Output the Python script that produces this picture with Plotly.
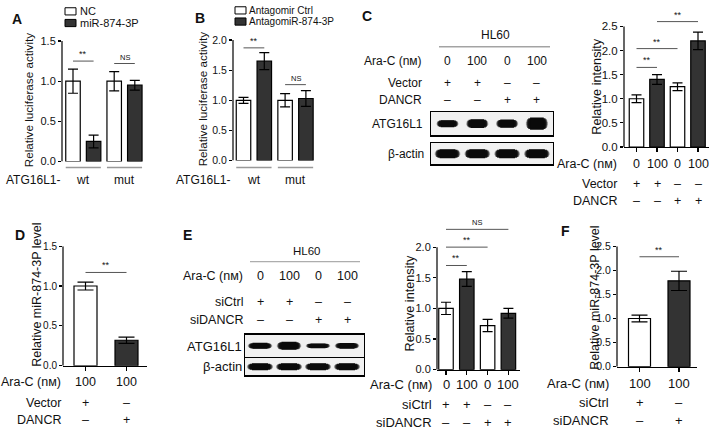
import plotly.graph_objects as go

W, H = 709, 433
FONT = "Liberation Sans, Arial, Helvetica, sans-serif"
DARK = "#333333"

# ------------------------------------------------------------------ data
a_groups = ["wt", "mut"]
a_series = ["NC", "miR-874-3P"]
a_values = [1.00, 0.25, 1.00, 0.95]          # NC wt, miR wt, NC mut, miR mut
a_errors = [0.15, 0.08, 0.12, 0.06]
a_yticks = [0.0, 0.5, 1.0, 1.5]
a_sig = [(0, 1, 1.25, "**"), (2, 3, 1.22, "NS")]

b_groups = ["wt", "mut"]
b_series = ["Antagomir Ctrl", "AntagomiR-874-3P"]
b_values = [1.00, 1.65, 1.00, 1.03]
b_errors = [0.05, 0.14, 0.11, 0.13]
b_yticks = [0.0, 0.5, 1.0, 1.5, 2.0]
b_sig = [(0, 1, 1.87, "**"), (2, 3, 1.26, "NS")]

c_ara = ["0", "100", "0", "100"]
c_vector = ["+", "+", "–", "–"]
c_dancr = ["–", "–", "+", "+"]
c_values = [1.00, 1.40, 1.25, 2.20]
c_errors = [0.08, 0.10, 0.08, 0.18]
c_yticks = [0.0, 0.5, 1.0, 1.5, 2.0, 2.5]
c_sig = [(0, 1, 1.65, "**"), (0, 2, 2.04, "**"), (1, 3, 2.60, "**")]
c_actin = [1.0, 1.0, 1.0, 1.0]

d_ara = ["100", "100"]
d_vector = ["+", "–"]
d_dancr = ["–", "+"]
d_values = [1.00, 0.32]
d_errors = [0.05, 0.04]
d_yticks = [0.0, 0.5, 1.0, 1.5]
d_sig = [(0, 1, 1.17, "**")]

e_ara = ["0", "100", "0", "100"]
e_sictrl = ["+", "+", "–", "–"]
e_sidancr = ["–", "–", "+", "+"]
e_values = [1.00, 1.48, 0.72, 0.92]
e_errors = [0.10, 0.12, 0.10, 0.08]
e_yticks = [0.0, 0.5, 1.0, 1.5, 2.0]
e_sig = [(0, 1, 1.70, "**"), (0, 2, 2.00, "**"), (0, 3, 2.29, "NS")]
e_actin = [1.0, 1.0, 1.0, 1.0]

f_ara = ["100", "100"]
f_sictrl = ["+", "–"]
f_sidancr = ["–", "+"]
f_values = [1.00, 1.78]
f_errors = [0.07, 0.20]
f_yticks = [0.0, 0.5, 1.0, 1.5, 2.0, 2.5]
f_sig = [(0, 1, 2.28, "**")]

# ------------------------------------------------------------------ helpers
fig = go.Figure()
layout = dict(width=W, height=H, margin=dict(l=0, r=0, t=0, b=0),
              paper_bgcolor="white", plot_bgcolor="white", showlegend=False,
              font=dict(family=FONT, size=11, color="#111"))
shapes, annotations = [], []


def PX(p):
    return p / W


def PY(p):
    return 1 - p / H


def names(n):
    s = "" if n == 1 else str(n)
    return "x" + s, "y" + s, "xaxis" + s, "yaxis" + s


def text(x, y, t, size, xref="paper", yref="paper", xanchor="center",
         yanchor="middle", **kw):
    annotations.append(dict(x=x, y=y, xref=xref, yref=yref, text=t,
                            showarrow=False, xanchor=xanchor, yanchor=yanchor,
                            borderpad=0,
                            font=dict(size=size, family=FONT, color="#111"), **kw))


def bar_chart(n, geo, values, errors, colors, yticks, xline=True, tickfont=11):
    xa, ya, xk, yk = names(n)
    axis_px, first_px, step_px, right_px, zero_px, ymax_px, top_px, bar_px = geo
    ymax = yticks[-1]
    scale = (zero_px - ymax_px) / ymax
    ytop = (zero_px - top_px) / scale
    pos = list(range(len(values)))
    layout[xk] = dict(domain=[PX(axis_px), PX(right_px)],
                      range=[-(first_px - axis_px) / step_px,
                             (right_px - first_px) / step_px],
                      anchor=ya, showgrid=False, zeroline=False,
                      showticklabels=False, showline=xline, linecolor="black",
                      linewidth=1.2, ticks="outside" if xline else "",
                      tickvals=pos, ticklen=4, tickwidth=1.2, tickcolor="black")
    layout[yk] = dict(domain=[PY(zero_px), PY(top_px)], range=[0, ytop],
                      anchor=xa, showgrid=False, zeroline=False, showline=False,
                      ticks="outside", ticklen=3, tickwidth=1.2,
                      tickcolor="black", tickvals=yticks,
                      ticktext=[f"{v:.1f}" for v in yticks],
                      tickfont=dict(size=tickfont, family=FONT, color="#111"))
    fig.add_trace(go.Bar(
        x=pos, y=values, width=bar_px / step_px,
        marker=dict(color=colors, line=dict(color="black", width=1.2)),
        error_y=dict(type="data", array=errors, visible=True, color="black",
                     thickness=1.2, width=round(bar_px * 0.36)),
        xaxis=xa, yaxis=ya, showlegend=False, hoverinfo="skip"))
    shapes.append(dict(type="line", xref=xa + " domain", x0=0, x1=0, yref=ya,
                       y0=0, y1=ymax, line=dict(color="black", width=1.2)))


def brackets(n, items):
    xa, ya, _, _ = names(n)
    for i, j, h, lab in items:
        shapes.append(dict(type="line", xref=xa, yref=ya, x0=i, x1=j, y0=h,
                           y1=h, line=dict(color="#555", width=1)))
        text((i + j) / 2, h, lab, 9 if lab == "**" else 7.5, xref=xa, yref=ya,
             yanchor="bottom", yshift=1)


def rows(n, label_right_px, spec, size):
    xa = names(n)[0]
    for label, y_px, vals in spec:
        text(PX(label_right_px), PY(y_px), label, size, xanchor="right")
        for i, v in enumerate(vals):
            text(i, PY(y_px), v, size, xref=xa)


# band profile: (fraction of half-length, relative thickness, opacity)
BAND_LAYERS = [(1.00, 0.35, 0.25), (0.95, 0.65, 0.45), (0.88, 0.90, 0.8),
               (0.78, 1.10, 0.9), (0.62, 1.25, 1.0)]


def blot(n, box, first_px, step_px, intens, base_w, half):
    xa, ya, xk, yk = names(n)
    x0p, x1p, y0p, y1p = box
    common = dict(showline=True, mirror=True, linecolor="black", linewidth=1.2,
                  showticklabels=False, ticks="", showgrid=False,
                  zeroline=False)
    layout[xk] = dict(domain=[PX(x0p), PX(x1p)],
                      range=[-(first_px - x0p) / step_px,
                             (x1p - first_px) / step_px], anchor=ya, **common)
    layout[yk] = dict(domain=[PY(y1p), PY(y0p)], range=[0, 1], anchor=xa,
                      **common)
    shapes.append(dict(type="rect", xref=xa + " domain", yref=ya + " domain",
                       x0=0, x1=1, y0=0, y1=1, fillcolor="#f1f1f1",
                       line=dict(width=0), layer="below"))
    for i, v in enumerate(intens):
        w = base_w * v ** 0.7
        for frac, rel, op in BAND_LAYERS:
            fig.add_trace(go.Scatter(
                x=[i - half * frac, i + half * frac], y=[0.5, 0.5],
                mode="lines", line=dict(color="#0a0a0a", width=w * rel),
                opacity=op, xaxis=xa, yaxis=ya, hoverinfo="skip",
                showlegend=False))


def alt_colors(k):
    return ["white" if i % 2 == 0 else DARK for i in range(k)]


# ------------------------------------------------------------------ panel A
bar_chart(1, (62, 73, 20.6, 150, 160, 36, 36, 14.5), a_values, a_errors,
          alt_colors(4), a_yticks, xline=False, tickfont=11)
brackets(1, a_sig)
bw = 14.5 / 20.6
for g, name in enumerate(a_groups):
    shapes.append(dict(type="line", xref="x", yref="y domain",
                       x0=2 * g - bw / 2, x1=2 * g + 1 + bw / 2,
                       y0=-6 / 124, y1=-6 / 124,
                       line=dict(color="#999", width=1.5)))
    text(2 * g + 0.5, PY(179), name, 12, xref="x")
text(PX(61), PY(179), "ATG16L1-", 12, xanchor="right")
text(PX(28), PY(97), "Relative luciferase activity", 11.7, textangle=-90)
text(PX(17), PY(13), "<b>A</b>", 14)
for s, (name, col, yb) in enumerate(zip(a_series, ["white", DARK], [5.5, 17.5])):
    shapes.append(dict(type="rect", xref="paper", yref="paper", x0=PX(65),
                       x1=PX(76), y0=PY(yb + 3.7), y1=PY(yb - 3.7),
                       fillcolor=col, line=dict(color="black", width=1)))
    text(PX(79), PY(yb), name, 11, xanchor="left")

# ------------------------------------------------------------------ panel B
bar_chart(2, (233, 243.5, 20.8, 320, 159, 35, 35, 14.5), b_values, b_errors,
          alt_colors(4), b_yticks, xline=False, tickfont=10.5)
brackets(2, b_sig)
bw = 14.5 / 20.8
for g, name in enumerate(b_groups):
    shapes.append(dict(type="line", xref="x2", yref="y2 domain",
                       x0=2 * g - bw / 2, x1=2 * g + 1 + bw / 2,
                       y0=-7 / 124, y1=-7 / 124,
                       line=dict(color="#999", width=1.5)))
    text(2 * g + 0.5, PY(179), name, 12, xref="x2")
text(PX(231), PY(179), "ATG16L1-", 12, xanchor="right")
text(PX(202), PY(96), "Relative luciferase activity", 11.7, textangle=-90)
text(PX(200), PY(12), "<b>B</b>", 14)
for s, (name, col, yb) in enumerate(zip(b_series, ["white", DARK], [4.5, 16])):
    shapes.append(dict(type="rect", xref="paper", yref="paper", x0=PX(235),
                       x1=PX(246), y0=PY(yb + 3.7), y1=PY(yb - 3.7),
                       fillcolor=col, line=dict(color="black", width=1)))
    text(PX(248), PY(yb), name, 10, xanchor="left")

# ------------------------------------------------------------------ panel C
blot(3, (431, 553, 109, 133), 447.5, 29.8, c_values, 5.6, 0.37)
blot(4, (431, 553, 141, 163), 447.5, 29.8, c_actin, 7.2, 0.43)
text(PX(367), PY(10), "<b>C</b>", 14)
text(PX(495), PY(30), "HL60", 12)
shapes.append(dict(type="line", xref="paper", yref="paper", x0=PX(439),
                   x1=PX(550), y0=PY(42), y1=PY(42),
                   line=dict(color="#777", width=1)))
rows(3, 423, [("Ara-C (nм)", 57, c_ara), ("Vector", 79, c_vector),
              ("DANCR", 97, c_dancr)], 12)
text(PX(424), PY(121), "ATG16L1", 12, xanchor="right")
text(PX(425), PY(152), "β-actin", 12, xanchor="right")

bar_chart(5, (624, 636.5, 20.5, 709, 145, 21, 3, 14.5), c_values, c_errors,
          alt_colors(4), c_yticks, tickfont=11.5)
brackets(5, c_sig)
rows(5, 618, [("Ara-C (nм)", 162, c_ara), ("Vector", 183, c_vector),
              ("DANCR", 201, c_dancr)], 12.5)
text(PX(597), PY(83), "Relative intensity", 12.7, textangle=-90)

# ------------------------------------------------------------------ panel D
bar_chart(6, (63, 85.5, 41, 147, 370, 247, 247, 23), d_values, d_errors,
          alt_colors(2), d_yticks, tickfont=10)
brackets(6, d_sig)
rows(6, 62, [("Ara-C (nм)", 387, d_ara), ("Vector", 408, d_vector),
             ("DANCR", 426, d_dancr)], 12.5)
text(PX(37), PY(297), "Relative miR-874-3P level", 12.5, textangle=-90)
text(PX(20), PY(236), "<b>D</b>", 14)

# ------------------------------------------------------------------ panel E
blot(7, (245, 364, 338, 361), 260, 29, e_values, 4.8, 0.42)
blot(8, (245, 364, 362, 380), 260, 29, e_actin, 5.6, 0.45)
text(PX(188), PY(236), "<b>E</b>", 14)
text(PX(307), PY(252), "HL60", 11.5)
shapes.append(dict(type="line", xref="paper", yref="paper", x0=PX(250),
                   x1=PX(360), y0=PY(263), y1=PY(263),
                   line=dict(color="#999", width=1)))
rows(7, 244, [("Ara-C (nм)", 278, e_ara), ("siCtrl", 304, e_sictrl),
              ("siDANCR", 323, e_sidancr)], 12.5)
text(PX(243), PY(350), "ATG16L1", 13, xanchor="right")
text(PX(243), PY(371), "β-actin", 13, xanchor="right")

bar_chart(9, (437, 446, 20.8, 520, 374, 248, 214, 14.5), e_values, e_errors,
          alt_colors(4), e_yticks, tickfont=11)
brackets(9, e_sig)
rows(9, 433, [("Ara-C (nм)", 389, e_ara), ("siCtrl", 410, e_sictrl),
              ("siDANCR", 428, e_sidancr)], 13)
text(PX(410), PY(306), "Relative intensity", 12.7, textangle=-90)

# ------------------------------------------------------------------ panel F
bar_chart(10, (617, 639.5, 39.5, 697, 371, 247, 247, 22), f_values, f_errors,
          alt_colors(2), f_yticks, tickfont=10.5)
brackets(10, f_sig)
rows(10, 610, [("Ara-C (nм)", 388, f_ara), ("siCtrl", 408, f_sictrl),
               ("siDANCR", 426, f_sidancr)], 13)
text(PX(595), PY(300), "Relative miR-874-3P level", 12.5, textangle=-90)
text(PX(565), PY(231), "<b>F</b>", 14)

layout["shapes"] = shapes
layout["annotations"] = annotations
fig.update_layout(**layout)
fig.write_html("out.html", config=dict(displayModeBar=False, staticPlot=True),
               post_script="document.body.style.margin='0';"
                           "document.body.style.overflow='hidden';")
